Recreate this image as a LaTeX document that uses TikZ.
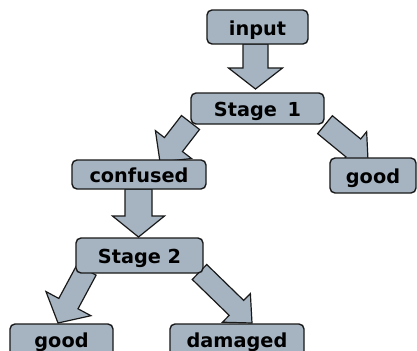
\documentclass[tikz,border=0pt]{standalone}
\usepackage{fontspec}
\newfontfamily\labfont{DejaVu Sans Bold}
\usetikzlibrary{calc}
\definecolor{boxfill}{RGB}{166,180,194}
\definecolor{edgecol}{RGB}{25,25,25}
\tikzset{
  box/.style={draw=edgecol, fill=boxfill, line width=1.4bp, rounded corners=5bp,
    inner sep=0pt, text height=16bp, text depth=0pt,
    font=\labfont\fontsize{19.3bp}{22bp}\selectfont},
  lowbox/.style={box, text height=12bp},
  blk/.style={draw=edgecol, fill=boxfill, line width=1.2bp, line join=miter},
}
% #1 start, #2 tip, #3 shaft half width, #4 head half width, #5 head length
\newcommand\blockarrow[5]{%
  \coordinate (tmpB) at ($(#2)!#5!(#1)$);
  \draw[blk] ($(#1)!#3!90:(#2)$) -- ($(tmpB)!#3!90:(#2)$) -- ($(tmpB)!#4!90:(#2)$)
    -- (#2) -- ($(tmpB)!#4!-90:(#2)$) -- ($(tmpB)!#3!-90:(#2)$)
    -- ($(#1)!#3!-90:(#2)$) -- cycle;
}
\begin{document}
\begin{tikzpicture}[x=1bp, y=-1bp]
\useasboundingbox (0,0) rectangle (417,351);
\clip (0,0) rectangle (417,351);
% connector end points
\coordinate (a1s) at (255.5,44);   \coordinate (a1t) at (255.5,89);
\coordinate (a2s) at (138.5,189);  \coordinate (a2t) at (138.5,237);
\coordinate (a3s) at (190.5,122.5);\coordinate (a3t) at (160,162);
\coordinate (a4s) at (325,124.7);  \coordinate (a4t) at (368,160);
\coordinate (a5s) at (86.5,270);   \coordinate (a5t) at (58,323);
\coordinate (a6s) at (199.5,272);  \coordinate (a6t) at (252,323);
% block arrows (drawn first, under the boxes)
\blockarrow{a1s}{a1t}{12.5bp}{27bp}{21bp}
\blockarrow{a2s}{a2t}{13.5bp}{26bp}{21bp}
\blockarrow{a3s}{a3t}{11.4bp}{22.8bp}{22bp}
\blockarrow{a4s}{a4t}{11.6bp}{21bp}{19bp}
\blockarrow{a5s}{a5t}{10.9bp}{25.5bp}{22bp}
\blockarrow{a6s}{a6t}{10.4bp}{20bp}{21.7bp}
% boxes
\node[box, minimum width=101bp, minimum height=34bp] (in) at (257.5,27) {input};
\node[box, minimum width=133bp, minimum height=31bp] (s1) at (257.5,108.5) {Stage\kern4bp{} 1};
\node[box, minimum width=86bp, minimum height=35bp] (g1) at (373,175.5) {good};
\node[box, minimum width=134bp, minimum height=29bp] (cf) at (139,174.5) {confused};
\node[box, minimum width=127bp, minimum height=35bp] (s2) at (139.5,255.5) {Stage 2};
\node[lowbox, minimum width=103bp, minimum height=34bp] (g2) at (61.5,341) {good};
\node[lowbox, minimum width=134bp, minimum height=34bp] (dm) at (237,341) {damaged};
\end{tikzpicture}
\end{document}
